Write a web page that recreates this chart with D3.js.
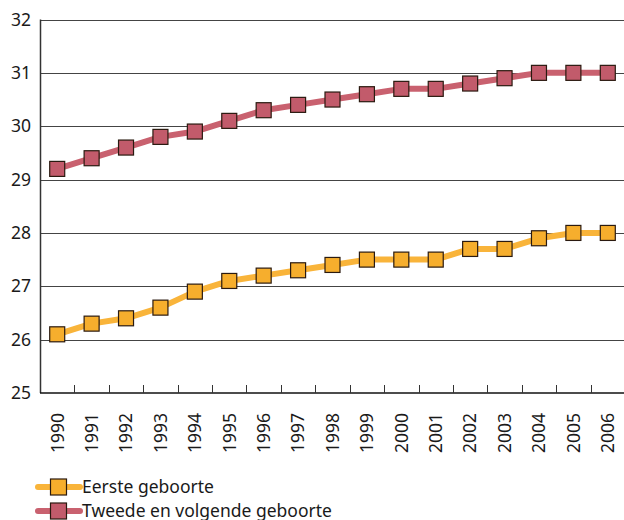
<!DOCTYPE html>
<html><head><meta charset="utf-8">
<script src="https://cdn.jsdelivr.net/npm/d3@7"></script>
<style>body{margin:0;background:#fff}svg{display:block}text{font-family:"Noto Sans",sans-serif;fill:#1a1a1a}</style>
</head><body><svg id="c" width="624" height="520"></svg>
<script>
const years = ["1990","1991","1992","1993","1994","1995","1996","1997","1998","1999","2000","2001","2002","2003","2004","2005","2006"];
const eerste = [26.1,26.3,26.4,26.6,26.9,27.1,27.2,27.3,27.4,27.5,27.5,27.5,27.7,27.7,27.9,28.0,28.0];
const tweede = [29.2,29.4,29.6,29.8,29.9,30.1,30.3,30.4,30.5,30.6,30.7,30.7,30.8,30.9,31.0,31.0,31.0];
const yTicks = [25,26,27,28,29,30,31,32];
const seriesNames = ["Eerste geboorte","Tweede en volgende geboorte"];
const lineColors = ["#F9B43A","#C9616F"];
const fillColors = ["#F6AE2D","#C25B6B"];

const svg = d3.select("#c");
const L=40, R=625, T=19.5, B=393;
const x = d3.scaleBand().domain(years).range([L,R]);
const y = d3.scaleLinear().domain([25,32]).range([B,T]);

// gridlines
svg.append("g").selectAll("line").data(yTicks.filter(d=>d>25)).join("line")
  .attr("x1",L).attr("x2",624).attr("y1",d=>Math.round(y(d))+0.5).attr("y2",d=>Math.round(y(d))+0.5)
  .attr("stroke","#444").attr("stroke-width",1.2);
// y labels
svg.append("g").selectAll("text").data(yTicks).join("text")
  .attr("x",31).attr("y",d=>y(d)).attr("dy","0.35em").attr("text-anchor","end")
  .attr("font-size",17.5).text(d=>d);
// axes lines
svg.append("line").attr("x1",L+0.5).attr("x2",L+0.5).attr("y1",T).attr("y2",B).attr("stroke","#333").attr("stroke-width",1.5);
svg.append("line").attr("x1",L).attr("x2",624).attr("y1",B).attr("y2",B).attr("stroke","#111").attr("stroke-width",1.6);
// x ticks (category boundaries, pointing up)
svg.append("g").selectAll("line").data(years.slice(1)).join("line")
  .attr("x1",d=>Math.round(x(d))+0.5).attr("x2",d=>Math.round(x(d))+0.5)
  .attr("y1",B).attr("y2",B-8).attr("stroke","#333").attr("stroke-width",1);
// x labels
svg.append("g").selectAll("text").data(years).join("text")
  .attr("transform",d=>`translate(${x(d)+x.bandwidth()/2},413) rotate(-90)`)
  .attr("dy","0.36em").attr("text-anchor","end").attr("font-size",17.5).text(d=>d);

const line = d3.line().x((d,i)=>x(years[i])+x.bandwidth()/2).y(d=>y(d));
[eerste,tweede].forEach((s,k)=>{
  svg.append("path").datum(s).attr("d",line).attr("fill","none")
    .attr("stroke",lineColors[k]).attr("stroke-width",6).attr("stroke-linejoin","round");
  svg.append("g").selectAll("rect").data(s).join("rect")
    .attr("x",(d,i)=>x(years[i])+x.bandwidth()/2-7.5).attr("y",d=>y(d)-7.5)
    .attr("width",15).attr("height",15).attr("fill",fillColors[k])
    .attr("stroke","#2a1a10").attr("stroke-width",1.2);
});

// legend
seriesNames.forEach((n,k)=>{
  const ly = 487 + k*24;
  svg.append("line").attr("x1",38).attr("x2",80).attr("y1",ly).attr("y2",ly)
    .attr("stroke",lineColors[k]).attr("stroke-width",6).attr("stroke-linecap","round");
  svg.append("rect").attr("x",50.5).attr("y",ly-8).attr("width",16).attr("height",16)
    .attr("fill",fillColors[k]).attr("stroke","#2a1a10").attr("stroke-width",1.2);
  svg.append("text").attr("x",82).attr("y",ly).attr("dy","0.35em").attr("font-size",17.5).text(n);
});
</script></body></html>
